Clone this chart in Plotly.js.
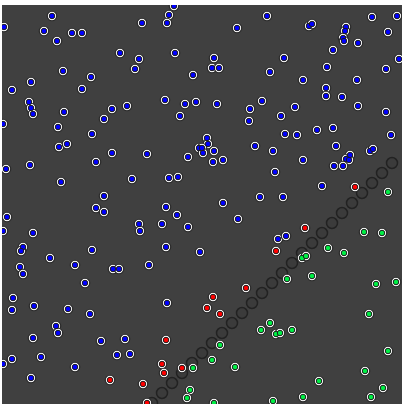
<!DOCTYPE html>
<html>
<head>
<meta charset="utf-8">
<script src="https://cdn.plot.ly/plotly-3.0.1.min.js"></script>
<style>
  html, body { margin: 0; padding: 0; background: #fff; }
  #chart { width: 405px; height: 410px; }
</style>
</head>
<body>
<div id="chart"></div>
<script>
// point positions (x right, y down)
const blueX = [174, 52, 4, 169, 142, 167, 44, 72, 82, 57, 120, 175, 139, 135, 63, 193, 31, 91, 12, 82,
  29, 31, 33, 64, 112, 127, 165, 185, 196, 180, 104, 3, 58, 92, 59, 67, 199, 112, 147, 188,
  96, 6, 30, 61, 132, 169, 178, 104,
  267, 372, 397, 237, 309, 312, 346, 345, 343, 344, 388, 358, 333, 214, 212, 219, 284, 399, 327, 270,
  386, 303, 357, 326, 326, 342, 217, 262, 250, 295, 358, 386, 281, 249, 317, 333, 285, 297, 391, 207,
  208, 202, 203, 214, 255, 273, 213, 223, 336, 303, 350, 346, 349, 370, 373, 334, 343, 275, 322, 260,
  283, 223,
  96, 104, 166, 177, 7, 139, 140, 162, 188, 3, 33, 23, 21, 166, 92, 50, 200, 75, 20, 23,
  113, 119, 149, 85, 13, 12, 34, 68, 90, 167, 56, 58, 33, 101, 125, 117, 130, 12, 3, 41,
  75, 31,
  238, 278, 286]
const blueY = [6, 16, 27, 15, 23, 23, 31, 33, 33, 41, 53, 53, 59, 69, 71, 75, 82, 77, 90, 89,
  102, 108, 114, 112, 109, 106, 100, 104, 102, 116, 119, 124, 127, 134, 147, 144, 148, 153, 154, 157,
  162, 169, 165, 182, 179, 178, 177, 196,
  16, 17, 16, 28, 26, 24, 27, 31, 38, 41, 32, 43, 50, 58, 68, 68, 58, 59, 67, 72,
  69, 80, 80, 88, 96, 97, 104, 101, 109, 107, 106, 112, 116, 121, 130, 128, 134, 135, 135, 138,
  144, 148, 153, 151, 146, 151, 162, 160, 146, 160, 155, 159, 160, 151, 149, 166, 166, 172, 186, 197,
  197, 203,
  208, 212, 207, 215, 217, 224, 231, 224, 227, 231, 233, 247, 251, 247, 250, 258, 252, 265, 267, 274,
  269, 269, 265, 283, 298, 310, 306, 309, 314, 303, 326, 333, 338, 341, 339, 355, 354, 359, 364, 357,
  367, 378,
  219, 239, 236]

const redX = [355, 166, 162, 164, 182, 110, 143, 147, 305, 276, 246, 213, 207, 220]
const redY = [187, 340, 364, 373, 368, 380, 384, 403, 228, 251, 288, 297, 308, 314]

const greenX = [388, 193, 190, 187, 364, 382, 328, 344, 302, 306, 287, 312, 376, 396, 369, 270,
  261, 276, 280, 292, 220, 388, 212, 235, 365, 319, 383, 303, 371, 273, 214]
const greenY = [192, 368, 390, 398, 232, 233, 248, 253, 258, 256, 279, 276, 284, 282, 314, 323,
  330, 334, 333, 330, 345, 351, 360, 367, 371, 381, 388, 397, 397, 401, 403]

// boundary circles along the diagonal
const edgeX = [152, 162, 172, 182, 192, 202, 212, 222, 232, 242, 252, 262, 272,
  282, 292, 302, 312, 322, 332, 342, 352, 362, 372, 382, 392]
const edgeY = [403, 393, 383, 373, 363, 353, 343, 333, 323, 313, 303, 293, 283,
  273, 263, 253, 243, 233, 223, 213, 203, 193, 183, 173, 163]

const allX = blueX.concat(redX, greenX)
const allY = blueY.concat(redY, greenY)

function dots(x, y, color) {
    return {
        x: x, y: y,
        type: 'scatter', mode: 'markers',
        hoverinfo: 'skip',
        marker: {
            size: 5.5,
            color: color,
            line: {color: '#1c1c1c', width: 1}
        }
    }
}

let data = [
    {
        x: edgeX, y: edgeY,
        type: 'scatter', mode: 'markers',
        hoverinfo: 'skip',
        marker: {
            size: 11,
            color: 'rgba(0,0,0,0.08)',
            line: {color: '#222222', width: 1.5}
        }
    },
    {
        // white rings under every point
        x: allX, y: allY,
        type: 'scatter', mode: 'markers',
        hoverinfo: 'skip',
        marker: {
            size: 9.5,
            color: '#ffffff',
            line: {color: '#2a2a2a', width: 1.2}
        }
    },
    dots(blueX, blueY, '#0000ff'),
    dots(redX, redY, '#ff0000'),
    dots(greenX, greenY, '#00ee44')
]

let layout = {
    width: 405,
    height: 410,
    margin: {l: 2, r: 3, t: 5, b: 6},
    paper_bgcolor: '#ffffff',
    plot_bgcolor: '#404040',
    showlegend: false,
    xaxis: {range: [2, 402], visible: false, fixedrange: true},
    yaxis: {range: [404, 5], visible: false, fixedrange: true}
}

Plotly.newPlot('chart', data, layout, {displayModeBar: false, staticPlot: true})
</script>
</body>
</html>
